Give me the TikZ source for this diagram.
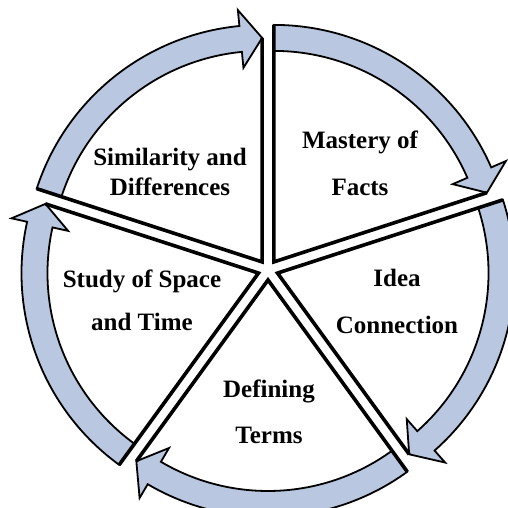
\documentclass[tikz,border=0pt]{standalone}
\usepackage{fontspec}
\setmainfont{Liberation Serif}
\usetikzlibrary{calc}
\definecolor{bandblue}{RGB}{185,200,224}
\tikzset{band/.style={fill=bandblue, draw=black, line width=1.8pt, line join=miter},
spoke/.style={draw=black, line width=3.6pt},
lbl/.style={font=\bfseries\fontsize{25}{#1}\selectfont, align=center},
sector/.pic={
\filldraw[band] (#1:237) arc[start angle=#1, end angle=#1-66.5, radius=237]
  -- (#1-66.5:253) -- (#1-72:224) -- (#1-66.5:195) -- (#1-66.5:211)
  arc[start angle=#1-66.5, end angle=#1, radius=211] -- cycle;
\draw[spoke] (#1:237) -- (0,0) -- (#1-72:224);
}}

\begin{document}
\begin{tikzpicture}[x=1pt, y=1pt]
        \useasboundingbox (0,0) rectangle (507,508);
        \coordinate (o) at (268,238);
        
        \pic at ($(o)+(54:10)$) {sector=90};
        \pic at ($(o)+(-18:10)$) {sector=18};
        \pic at ($(o)+(-90:10)$) {sector=-54};
        \pic at ($(o)+(-162:10)$) {sector=-126};
        \pic at ($(o)+(-234:10)$) {sector=-198};
        
        \node[lbl=47] (mastery) at (360,345) {Mastery of\\Facts};
        \node[lbl=47] (idea) at (397,207) {Idea\\Connection};
        \node[lbl=46] (defining) at (269,96.5) {Defining\\Terms};
        \node[lbl=43] (study) at (142,208) {Study of Space\\and Time};
        \node[lbl=30] (similarity) at (170,336.5) {Similarity and\\Differences};
    \end{tikzpicture}
\end{document}
